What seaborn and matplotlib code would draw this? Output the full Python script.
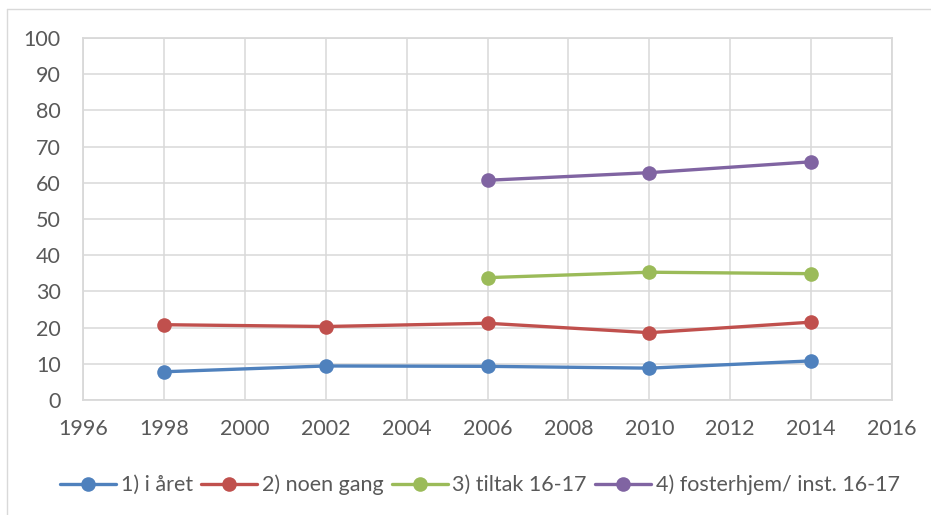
import matplotlib
matplotlib.use("Agg")
import matplotlib.pyplot as plt
from matplotlib.lines import Line2D
import seaborn as sns
import pandas as pd

# Survey years and percentages per series
years_all = [1998, 2002, 2006, 2010, 2014]
years_late = [2006, 2010, 2014]
s1_aaret = [7.8, 9.4, 9.3, 8.8, 10.8]
s2_noen_gang = [20.8, 20.3, 21.2, 18.6, 21.5]
s3_tiltak = [33.8, 35.3, 34.9]
s4_fosterhjem = [60.7, 62.8, 65.8]

labels = ["1) i året", "2) noen gang", "3) tiltak 16-17", "4) fosterhjem/ inst. 16-17"]
colors = ["#4F81BD", "#C0504D", "#9BBB59", "#8064A2"]
x_ticks = list(range(1996, 2017, 2))
y_ticks = list(range(0, 101, 10))

frames = []
for lab, xs, ys in [
    (labels[0], years_all, s1_aaret),
    (labels[1], years_all, s2_noen_gang),
    (labels[2], years_late, s3_tiltak),
    (labels[3], years_late, s4_fosterhjem),
]:
    frames.append(pd.DataFrame({"year": xs, "value": ys, "serie": lab}))
df = pd.concat(frames, ignore_index=True)

sns.set_theme(style="white")
plt.rcParams["font.family"] = ["Lato", "DejaVu Sans"]

fig = plt.figure(figsize=(9.31, 5.15), dpi=100)
ax = fig.add_axes([83 / 931, 1 - 400 / 515, (892 - 83) / 931, (400 - 38) / 515])

grid_c = "#D9D9D9"
text_c = "#595959"
fs = 15.5

sns.lineplot(
    data=df, x="year", y="value", hue="serie", hue_order=labels,
    palette=colors, marker="o", markersize=10.5, markeredgewidth=0,
    linewidth=2.4, ax=ax, legend=False, zorder=3,
)

ax.set_xlim(1996, 2016)
ax.set_ylim(0, 100)
ax.set_xticks(x_ticks)
ax.set_yticks(y_ticks)
ax.set_xlabel("")
ax.set_ylabel("")
ax.grid(True, color=grid_c, linewidth=1.1)
ax.set_axisbelow(True)
for sp in ax.spines.values():
    sp.set_color(grid_c)
    sp.set_linewidth(1.3)
ax.tick_params(axis="both", length=0, labelsize=fs, labelcolor=text_c)
ax.tick_params(axis="y", pad=16)
ax.tick_params(axis="x", pad=14)

handles = [
    Line2D([0], [0], color=c, linewidth=2.4, marker="o", markersize=10.5,
           markeredgewidth=0)
    for c in colors
]
fig.legend(
    handles, labels, loc="center", bbox_to_anchor=(480 / 931, 1 - 485 / 515),
    ncol=4, frameon=False, fontsize=fs, labelcolor=text_c,
    handlelength=2.6, handletextpad=0.2, columnspacing=0.4,
)

# Outer chart frame
fig.add_artist(Line2D([7 / 931, 1], [1 - 9 / 515, 1 - 9 / 515], color=grid_c,
                      linewidth=1, transform=fig.transFigure))
fig.add_artist(Line2D([7 / 931, 7 / 931], [0, 1 - 9 / 515], color=grid_c,
                      linewidth=1, transform=fig.transFigure))

fig.savefig("out.png", dpi=100)
